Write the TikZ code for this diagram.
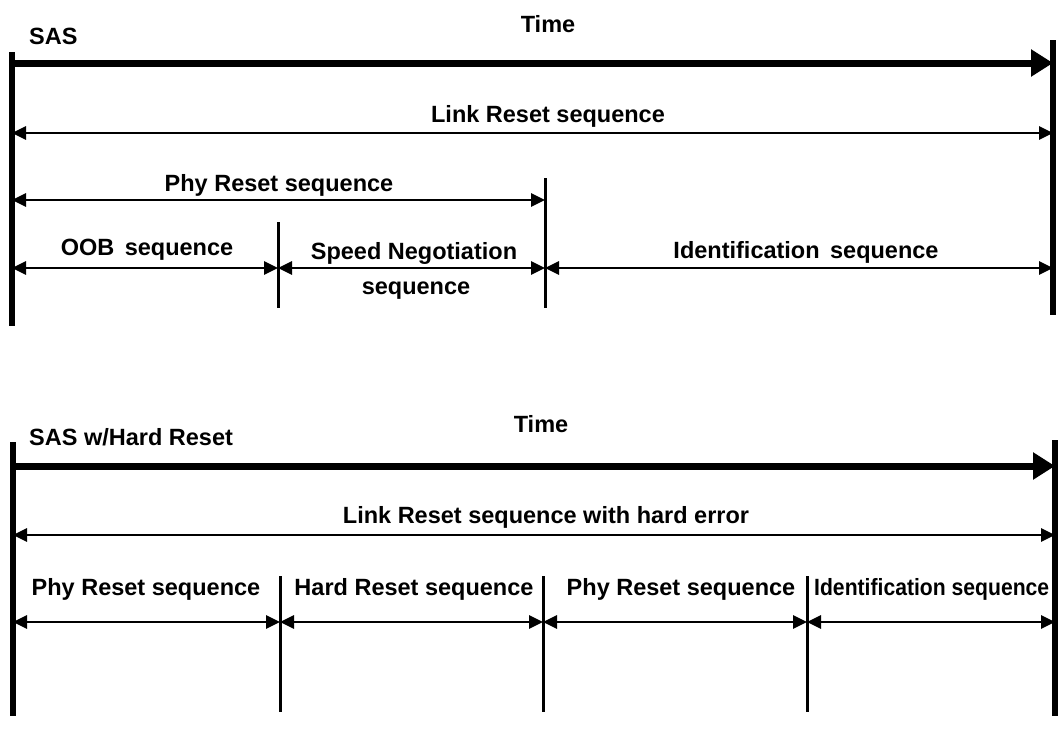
\documentclass[tikz,border=0pt]{standalone}
\usepackage{fontspec}
\setmainfont{Liberation Sans}
\usepackage{tikz}
\usetikzlibrary{arrows.meta}

\tikzset{
    lbl/.style={font=\fontsize{23.5}{26}\selectfont\bfseries, inner sep=0pt},
    span/.style={line width=2.8pt, {Triangle[length=14pt,width=13pt]}-{Triangle[length=14pt,width=13pt]}},
    timeline/.style={line width=7pt, -{Triangle[length=22pt,width=26pt]}},
    bar/.style={line width=5.5pt},
    tick/.style={line width=3pt}
}

\begin{document}
\begin{tikzpicture}[x=1pt, y=-1pt]
    \useasboundingbox (0,0) rectangle (1058,732);

    % SAS
    \coordinate (barA) at (12,52);
    \coordinate (barB) at (12,326);
    \coordinate (endA) at (1053,40);
    \coordinate (endB) at (1053,315);
    \coordinate (tick1a) at (278,222);
    \coordinate (tick1b) at (278,308);
    \coordinate (tick2a) at (545,178);
    \coordinate (tick2b) at (545,308);
    \coordinate (time0) at (12,63);
    \coordinate (time1) at (1053,63);
    \coordinate (link0) at (12,133);
    \coordinate (link1) at (1053,133);
    \coordinate (phy0) at (12,200);
    \coordinate (phy1) at (545,200);
    \coordinate (seq0) at (12,268);
    \coordinate (seq1) at (278,268);
    \coordinate (seq2) at (545,268);
    \coordinate (seq3) at (1053,268);
    \path
        node (sas) at (29,36) [lbl, anchor=west] {SAS}
        node (time) at (548,24) [lbl] {Time}
        node (link) at (548,116) [lbl] {Link Reset sequence}
        node (phy) at (279,185) [lbl] {Phy Reset sequence}
        node (oob) at (147,250) [lbl] {OOB\, sequence}
        node (speed) at (414,253) [lbl] {Speed Negotiation}
        node (speed2) at (416,291) [lbl] {sequence}
        node (ident) at (806,252) [lbl] {Identification\, sequence};
    \draw[bar] (barA) -- (barB);
    \draw[bar] (endA) -- (endB);
    \draw[tick] (tick1a) -- (tick1b);
    \draw[tick] (tick2a) -- (tick2b);
    \draw[timeline] (time0) -- (time1);
    \draw[span] (link0) -- (link1);
    \draw[span] (phy0) -- (phy1);
    \draw[span] (seq0) -- (seq1);
    \draw[span] (seq1) -- (seq2);
    \draw[span] (seq2) -- (seq3);

    % SAS w/Hard Reset
    \coordinate (hbarA) at (13,442);
    \coordinate (hbarB) at (13,716);
    \coordinate (hendA) at (1055,440);
    \coordinate (hendB) at (1055,716);
    \coordinate (htick1a) at (280,576);
    \coordinate (htick1b) at (280,712);
    \coordinate (htick2a) at (543,576);
    \coordinate (htick2b) at (543,712);
    \coordinate (htick3a) at (807,576);
    \coordinate (htick3b) at (807,712);
    \coordinate (htime0) at (13,466);
    \coordinate (htime1) at (1055,466);
    \coordinate (hlink0) at (13,535);
    \coordinate (hlink1) at (1055,535);
    \coordinate (hseq0) at (13,622);
    \coordinate (hseq1) at (280,622);
    \coordinate (hseq2) at (543,622);
    \coordinate (hseq3) at (807,622);
    \coordinate (hseq4) at (1055,622);
    \path
        node (hsas) at (29,437) [lbl, anchor=west] {SAS w/Hard Reset}
        node (htime) at (541,424) [lbl] {Time}
        node (hlink) at (546,517) [lbl] {Link Reset sequence with hard error}
        node (hphy) at (146,589) [lbl] {Phy Reset sequence}
        node (hhard) at (414,589) [lbl] {Hard Reset sequence}
        node (hphy2) at (681,589) [lbl] {Phy Reset sequence}
        node (hident) at (814,589) [lbl, anchor=west, xscale=0.9] {Identification sequence};
    \draw[bar] (hbarA) -- (hbarB);
    \draw[bar] (hendA) -- (hendB);
    \draw[tick] (htick1a) -- (htick1b);
    \draw[tick] (htick2a) -- (htick2b);
    \draw[tick] (htick3a) -- (htick3b);
    \draw[timeline] (htime0) -- (htime1);
    \draw[span] (hlink0) -- (hlink1);
    \draw[span] (hseq0) -- (hseq1);
    \draw[span] (hseq1) -- (hseq2);
    \draw[span] (hseq2) -- (hseq3);
    \draw[span] (hseq3) -- (hseq4);
\end{tikzpicture}
\end{document}
